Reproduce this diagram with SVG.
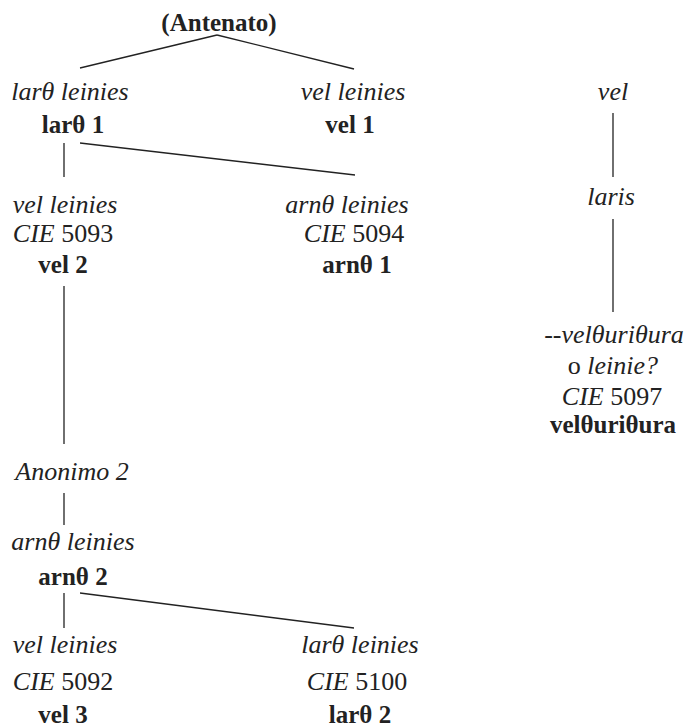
<svg xmlns="http://www.w3.org/2000/svg" width="684" height="727" viewBox="0 0 684 727">
<style>
text{font-family:"Liberation Serif","Times New Roman","DejaVu Serif",serif;font-size:26px;fill:#222;text-anchor:middle}
.i{font-style:italic}
.b{font-weight:bold;font-size:25px}
.r{font-style:normal}
#connectors line{stroke:#222;stroke-width:1.3}
</style>
<rect width="684" height="727" fill="#fff"/>
<g id="connectors">
<line x1="217" y1="35" x2="80" y2="68"/>
<line x1="217" y1="35" x2="354" y2="69"/>
<line x1="64" y1="143" x2="64" y2="177"/>
<line x1="80" y1="143" x2="355" y2="175"/>
<line x1="64" y1="286" x2="64" y2="444"/>
<line x1="64" y1="493" x2="64" y2="525"/>
<line x1="64" y1="593" x2="64" y2="628"/>
<line x1="80" y1="593" x2="354" y2="628"/>
<line x1="613" y1="113" x2="613" y2="177"/>
<line x1="613" y1="219" x2="613" y2="312"/>
</g>
<g id="antenato"><text class="b" x="219" y="31">(Antenato)</text></g>
<g id="lart1"><text class="i" x="70" y="100">larθ leinies</text><text class="b" x="73" y="133">larθ 1</text></g>
<g id="vel1"><text class="i" x="353" y="100">vel leinies</text><text class="b" x="350" y="133">vel 1</text></g>
<g id="vel2"><text class="i" x="65" y="213">vel leinies</text><text x="63" y="242"><tspan class="i">CIE</tspan> 5093</text><text class="b" x="63" y="273">vel 2</text></g>
<g id="arnt1"><text class="i" x="347" y="213">arnθ leinies</text><text x="354" y="242"><tspan class="i">CIE</tspan> 5094</text><text class="b" x="357" y="273">arnθ 1</text></g>
<g id="anonimo2"><text class="i" x="72" y="480">Anonimo 2</text></g>
<g id="arnt2"><text class="i" x="73" y="550">arnθ leinies</text><text class="b" x="73" y="585">arnθ 2</text></g>
<g id="vel3"><text class="i" x="65" y="653">vel leinies</text><text x="63" y="690"><tspan class="i">CIE</tspan> 5092</text><text class="b" x="63" y="723">vel 3</text></g>
<g id="lart2"><text class="i" x="360" y="653">larθ leinies</text><text x="357" y="690"><tspan class="i">CIE</tspan> 5100</text><text class="b" x="360" y="723">larθ 2</text></g>
<g id="vel"><text class="i" x="613" y="100">vel</text></g>
<g id="laris"><text class="i" x="611" y="205">laris</text></g>
<g id="veltharitura"><text class="i" x="614" y="343">--velθuriθura</text><text x="613" y="374">o <tspan class="i">leinie?</tspan></text><text x="612" y="405"><tspan class="i">CIE</tspan> 5097</text><text class="b" x="613" y="433">velθuriθura</text></g>
</svg>
